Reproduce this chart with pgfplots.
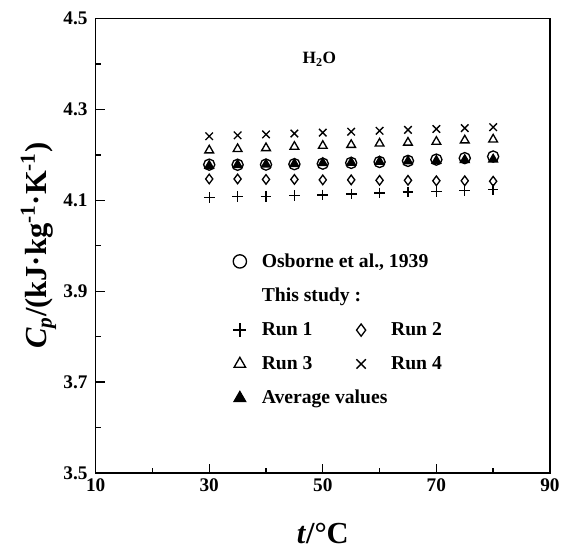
\documentclass[border=0pt]{standalone}
\usepackage{pgfplots}
\pgfplotsset{compat=1.18}
\usepackage{fontspec}
\setmainfont{Liberation Serif}

\begin{document}
\begin{tikzpicture}
\begin{axis}[
    scale only axis, width=342pt, height=342pt,
    xmin=10, xmax=90, ymin=3.5, ymax=4.5,
    xtick={10,30,...,90}, minor xtick={20,40,...,80},
    ytick={3.5,3.7,...,4.5}, minor ytick={3.6,3.8,...,4.4},
    yticklabel style={/pgf/number format/fixed, /pgf/number format/fixed zerofill,
        /pgf/number format/precision=1, xshift=-2.6pt},
    /pgf/number format/assume math mode=true,
    tick align=inside, xtick pos=left, ytick pos=left,
    major tick length=7pt, minor tick length=4pt,
    tick style={black, line width=1pt},
    axis line style={line width=1.2pt},
    ticklabel style={font=\bfseries\fontsize{14.5}{14.5}\selectfont},
    xticklabel style={yshift=-1pt},
    xlabel={\textit{t}/°C},
    ylabel={\textit{C}\textsubscript{\textit{p}}/(kJ·kg\textsuperscript{-1}·K\textsuperscript{-1})},
    label style={font=\bfseries\fontsize{23}{23}\selectfont},
    ylabel style={yshift=-1.5pt},
    xlabel style={yshift=-17pt},
    legend columns=2,
    legend cell align=left,
    legend style={draw=none, fill=none, at={(axis cs:32.65,3.995)}, anchor=north west,
        font=\bfseries\fontsize{14.8}{14.8}\selectfont,
        /tikz/row sep=10.2pt,
        /tikz/column 1/.style={column sep=9.5pt},
        /tikz/column 2/.style={column sep=26pt},
        /tikz/column 3/.style={column sep=17pt}},
    every axis plot/.append style={only marks, black, line width=1pt},
]

% legend entries
\addlegendimage{mark=o, mark size=5pt}
\addlegendentry{\makebox[0pt][l]{Osborne et al., 1939}}
\addlegendimage{empty legend}\addlegendentry{}
\addlegendimage{empty legend}\addlegendentry{\makebox[0pt][l]{This study :}}
\addlegendimage{empty legend}\addlegendentry{}
\addlegendimage{mark=+, mark size=5pt}\addlegendentry{Run 1}
\addlegendimage{mark=diamond, mark size=4.6pt}\addlegendentry{Run 2}
\addlegendimage{mark=triangle, mark size=5pt}\addlegendentry{Run 3}
\addlegendimage{mark=x, mark size=5pt}\addlegendentry{Run 4}
\addlegendimage{mark=triangle*, mark size=5pt}\addlegendentry{\makebox[0pt][l]{Average values}}

% Run 1
\addplot[mark=+, mark size=4pt, forget plot] coordinates {
    (30,4.106) (35,4.108) (40,4.109) (45,4.110) (50,4.112) (55,4.114)
    (60,4.116) (65,4.118) (70,4.120) (75,4.122) (80,4.124)
};
% Run 2
\addplot[mark=diamond, mark size=3.6pt, forget plot] coordinates {
    (30,4.147) (35,4.147) (40,4.146) (45,4.146) (50,4.145) (55,4.145)
    (60,4.144) (65,4.144) (70,4.143) (75,4.143) (80,4.142)
};
% Run 3
\addplot[mark=triangle, mark size=3.8pt, forget plot] coordinates {
    (30,4.210) (35,4.213) (40,4.215) (45,4.218) (50,4.220) (55,4.222)
    (60,4.225) (65,4.227) (70,4.229) (75,4.232) (80,4.234)
};
% Run 4
\addplot[mark=x, mark size=4pt, forget plot] coordinates {
    (30,4.241) (35,4.243) (40,4.245) (45,4.247) (50,4.249) (55,4.251)
    (60,4.253) (65,4.255) (70,4.257) (75,4.259) (80,4.261)
};
% Osborne et al., 1939
\addplot[mark=o, mark size=4.2pt, forget plot] coordinates {
    (30,4.1785) (35,4.1782) (40,4.1786) (45,4.1795) (50,4.1807) (55,4.1824)
    (60,4.1844) (65,4.1868) (70,4.1896) (75,4.1928) (80,4.1964)
};
% Average values
\addplot[mark=triangle*, mark size=3.8pt, forget plot] coordinates {
    (30,4.176) (35,4.178) (40,4.179) (45,4.180) (50,4.182) (55,4.183)
    (60,4.185) (65,4.186) (70,4.187) (75,4.189) (80,4.190)
};

\node[font=\bfseries\fontsize{13}{13}\selectfont] at (axis cs:49.4,4.41) {H\textsubscript{2}O};
\end{axis}
% page margins as in the reference
\path (current axis.south west) ++(-72pt,-56pt);
\path (current axis.north east) ++(9pt,14pt);
\end{tikzpicture}
\end{document}
